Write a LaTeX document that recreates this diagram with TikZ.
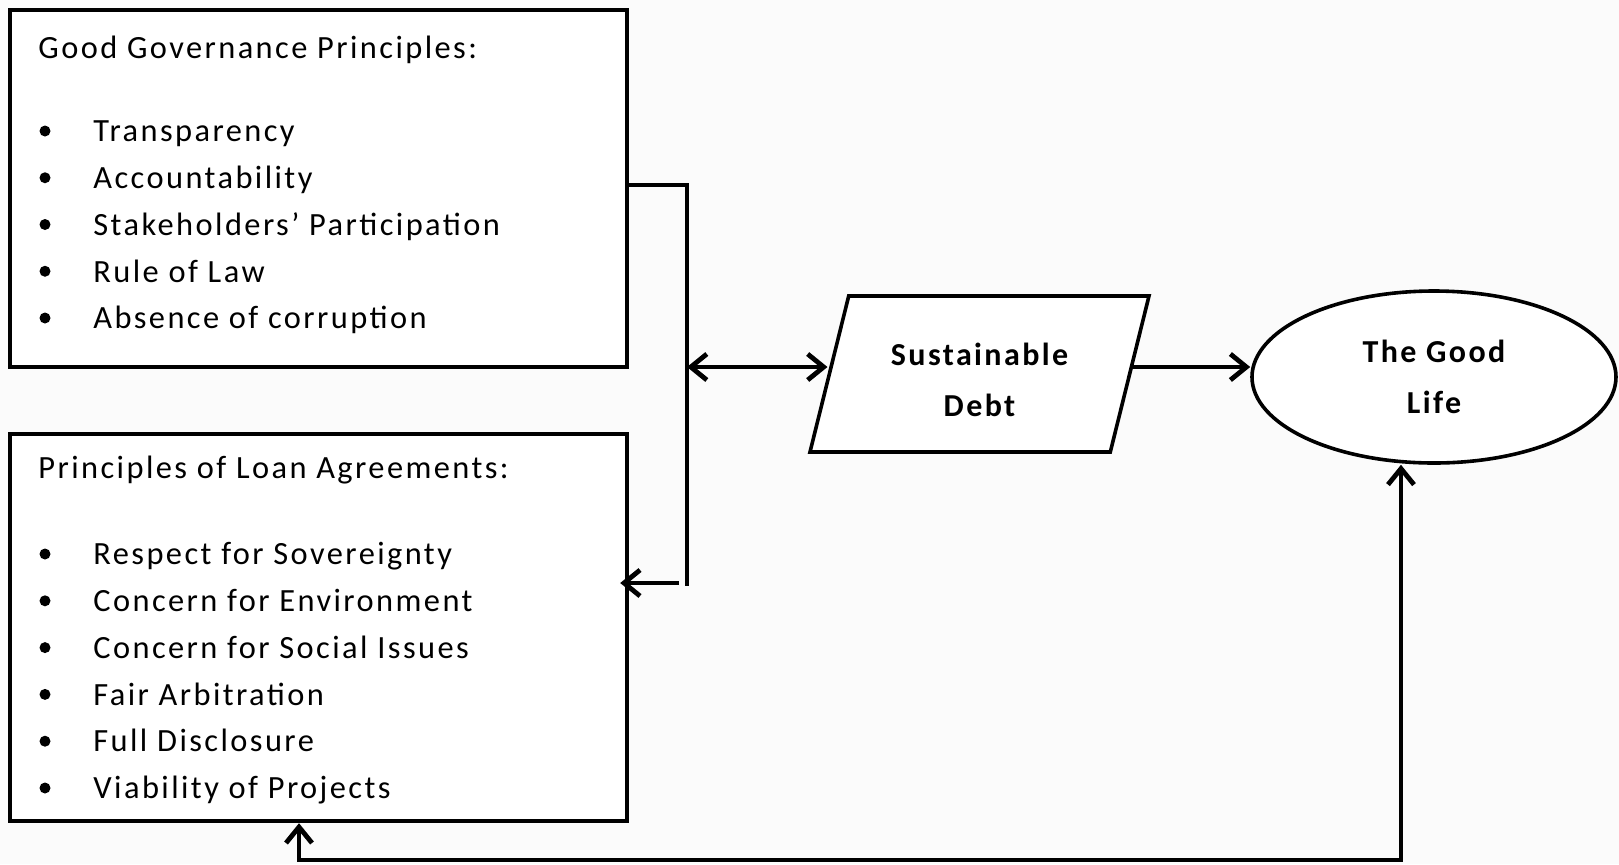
\documentclass[tikz,border=0pt]{standalone}
\usepackage{fontspec}
\setmainfont{Carlito}
\newfontfamily\boxfont[LetterSpace=7.5]{Carlito}
\usetikzlibrary{shapes.geometric,arrows.meta}

\begin{document}
\begin{tikzpicture}[x=0.5pt,y=-0.5pt,
  >={Straight Barb[length=8pt,width=13pt]},
  panel/.style={draw,line width=2.2pt,fill=white,inner sep=0pt},
  conn/.style={line width=2.4pt},
  item/.style={anchor=mid west,inner sep=0pt,font=\boxfont\fontsize{16.2}{19}\selectfont},
  dot/.style={circle,fill,inner sep=0pt,minimum size=5.5pt},
  label/.style={draw,line width=1.8pt,fill=white,inner sep=0pt,align=center,
    font=\boxfont\bfseries\fontsize{16}{25.5}\selectfont}]
\useasboundingbox[fill=black!1.5] (0,0) rectangle (1619,864);
% left boxes
\node[panel,minimum width=308.5pt,minimum height=178.5pt] (gov) at (318.5,188.5) {};
\node[panel,minimum width=308.5pt,minimum height=193.5pt] (loan) at (318.5,627.5) {};
\node[item] (govtitle) at (38,54) {Good Governance Principles:};
\foreach \txt [count=\i] in {Transparency, Accountability, Stakeholders’ Participation,
  Rule of Law, Absence of corruption} {
  \node[dot] (govdot\i) at (45,{131+46.75*(\i-1)}) {};
  \node[item] (gov\i) at (93,{137+46.75*(\i-1)}) {\txt};
}
\node[item] (loantitle) at (38,474) {Principles of Loan Agreements:};
\foreach \txt [count=\i] in {Respect for Sovereignty, Concern for Environment,
  Concern for Social Issues, Fair Arbitration, Full Disclosure, Viability of Projects} {
  \node[dot] (loandot\i) at (45,{554+46.8*(\i-1)}) {};
  \node[item] (loan\i) at (93,{560+46.8*(\i-1)}) {\txt};
}
% right shapes
\node[label,trapezium,trapezium left angle=76,trapezium right angle=104,
  trapezium stretches body=true,inner ysep=17.5pt,minimum width=169.5pt,minimum height=78pt]
  (debt) at (979.5,374) {\rule{0pt}{17pt}Sustainable\\Debt};
\node[label,ellipse,minimum width=182pt,minimum height=86pt] (life) at (1434,377) {The Good\\Life};
% connectors
\coordinate (jt) at (687,185);
\coordinate (jm) at (687,367);
\coordinate (jb) at (687,586);
\coordinate (ja) at (679,583);
\coordinate (lr) at (1401,860);
\coordinate (ll) at (299,860);
\draw[conn] (jt -| gov.east) -- (jt) -- (jb);
\draw[conn,<->] (jm) -- (jm -| debt.west);
\draw[conn,->] (ja) -- ([xshift=-4.5pt]ja -| loan.east);
\draw[conn,->] (debt.east |- jm) -- (jm -| life.west);
\draw[conn,<->] (lr |- life.south) -- (lr) -- (ll) -- (ll |- loan.south);
\end{tikzpicture}
\end{document}
